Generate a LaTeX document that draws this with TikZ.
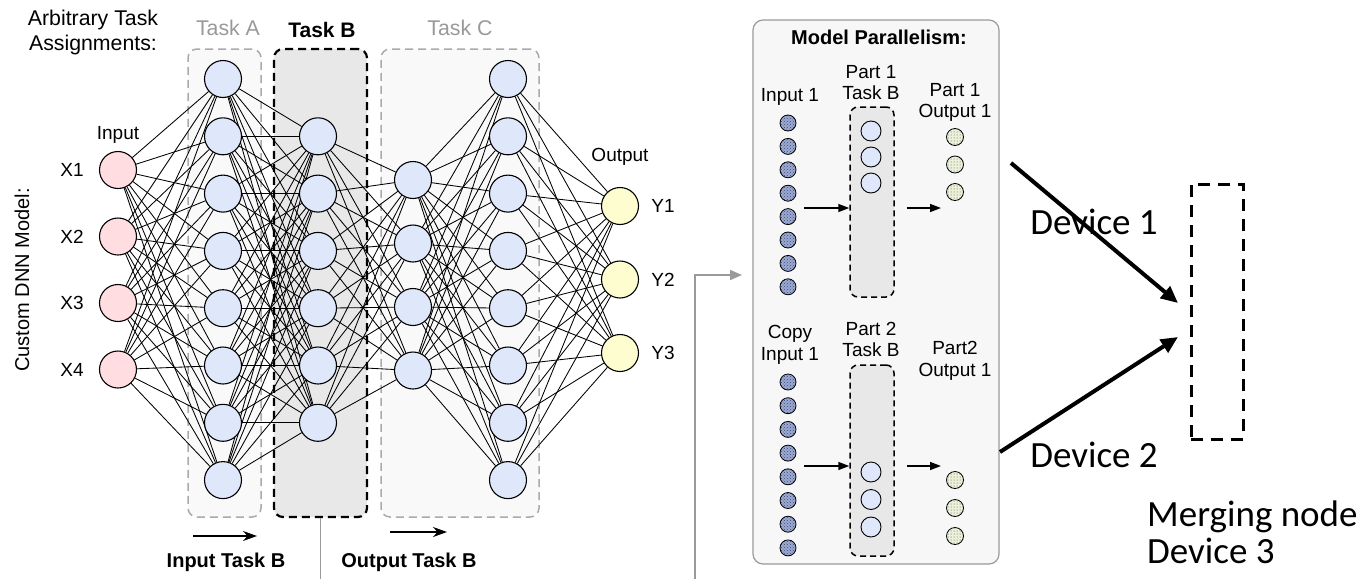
\documentclass[tikz,border=0pt]{standalone}
\usepackage{fontspec}
\setmainfont{Liberation Sans}
\newfontfamily\calibrifont{Carlito}
\usetikzlibrary{arrows.meta,patterns}

\pgfdeclarelayer{boxes}
\pgfdeclarelayer{edges}
\pgfsetlayers{boxes,edges,main}

\definecolor{inpink}{HTML}{FFDDE1}
\definecolor{hidblue}{HTML}{DFE7FB}
\definecolor{outyel}{HTML}{FDFDCF}
\definecolor{lightbox}{HTML}{F9F9F9}
\definecolor{darkbox}{HTML}{E8E8E8}
\definecolor{panelbox}{HTML}{F7F7F7}
\definecolor{dashgray}{HTML}{AAAAAA}
\definecolor{textgray}{HTML}{999999}
\definecolor{linkgray}{HTML}{9A9A9A}
\definecolor{dotblue}{HTML}{9DAAD2}
\definecolor{dotbluedark}{HTML}{3A4878}
\definecolor{dotgreen}{HTML}{EBF1DA}
\definecolor{dotgreendark}{HTML}{4E5A44}

\newcommand\labfont{\fontsize{19}{21.5}\selectfont}
\newcommand\headfont{\fontsize{21.3}{25.5}\selectfont}
\newcommand\boldlab{\fontsize{20}{22}\selectfont\bfseries}
\newcommand\devfont{\calibrifont\fontsize{37}{36.5}\selectfont}

\begin{document}
\begin{tikzpicture}[x=1pt,y=-1pt,
  neuron/.style={circle,draw=black,line width=1.1pt,minimum size=37pt,inner sep=0pt},
  edge/.style={draw=black,line width=0.85pt},
  lbl/.style={font=\labfont,inner sep=0pt},
  hlbl/.style={font=\headfont,inner sep=0pt},
  blbl/.style={font=\boldlab,inner sep=0pt},
  graytask/.style={rectangle,rounded corners=9pt,draw=dashgray,line width=1.5pt,
    dash pattern=on 8pt off 5pt,fill=lightbox,minimum height=468pt},
  blacktask/.style={rectangle,rounded corners=9pt,draw=black,line width=2.2pt,
    dash pattern=on 8pt off 5pt,fill=darkbox,minimum height=468pt},
  partbox/.style={rectangle,rounded corners=8pt,draw=black,line width=1.5pt,
    dash pattern=on 6pt off 4pt,fill=darkbox,minimum width=44pt,inner sep=0pt},
  smallneuron/.style={circle,draw=black,line width=0.9pt,minimum size=20pt,inner sep=0pt,fill=hidblue},
  indot/.style={circle,draw=black,line width=0.8pt,minimum size=16pt,inner sep=0pt,
    preaction={fill=dotblue},pattern=crosshatch dots,pattern color=dotbluedark},
  outdot/.style={circle,draw=black,line width=0.8pt,minimum size=17pt,inner sep=0pt,
    preaction={fill=dotgreen},pattern=dots,pattern color=dotgreendark},
  flowarrow/.style={draw=black,line width=1.8pt,-{Stealth[length=14pt,width=10pt]}},
  partarrow/.style={draw=black,line width=1.5pt,-{Triangle[length=11pt,width=8pt]}},
  linkline/.style={draw=linkgray,line width=1.8pt},
  devarrow/.style={draw=black,line width=4pt,-{Triangle[length=17pt,width=15pt]}},
  devlbl/.style={font=\devfont,inner sep=0pt}]

\useasboundingbox (0,0) rectangle (1369,579);

% ---------- task groupings ----------
\begin{pgfonlayer}{boxes}
  \node[graytask,minimum width=73pt]  (taskA) at (224.5,283) {};
  \node[blacktask,minimum width=93pt] (taskB) at (320.5,283) {};
  \node[graytask,minimum width=158pt] (taskC) at (460,283) {};
\end{pgfonlayer}

\node[hlbl,text=textgray] (tA) at (228,28) {Task A};
\node[blbl,font=\fontsize{21}{24}\selectfont\bfseries] (tB) at (322,30) {Task B};
\node[hlbl,text=textgray] (tC) at (460,28) {Task C};
\node[hlbl,align=center] (assign) at (93,32.5) {Arbitrary Task\\Assignments:};
\node[lbl,rotate=90,font=\fontsize{20}{22}\selectfont] (dnn) at (22,280) {Custom DNN Model:};

% ---------- network layers ----------
\foreach \i/\y in {1/170,2/236.5,3/303,4/369.5}{
  \node[neuron,fill=inpink] (x\i) at (118,\y) {};
  \node[lbl] (lx\i) at (72,\y) {X\i};
}
\foreach \i in {1,...,8}
  \node[neuron,fill=hidblue] (a\i) at (223,{79+57.3*(\i-1)}) {};
\foreach \i in {1,...,6}
  \node[neuron,fill=hidblue] (b\i) at (318,{136.3+57.3*(\i-1)}) {};
\foreach \i in {1,...,4}
  \node[neuron,fill=hidblue] (c\i) at (413,{180+63.5*(\i-1)}) {};
\foreach \i in {1,...,8}
  \node[neuron,fill=hidblue] (d\i) at (508,{79+57.3*(\i-1)}) {};
\foreach \i in {1,...,3}{
  \node[neuron,fill=outyel] (y\i) at (620,{206+73.5*(\i-1)}) {};
  \node[lbl] (ly\i) at (663,{206+73.5*(\i-1)}) {Y\i};
}
\node[lbl] (inlbl) at (118,135) {Input};
\node[lbl] (outlbl) at (620,157) {Output};

% ---------- dense connections ----------
\begin{pgfonlayer}{edges}
  \foreach \i in {1,...,4} \foreach \j in {1,...,8} \draw[edge] (x\i) -- (a\j);
  \foreach \i in {1,...,8} \foreach \j in {1,...,6} \draw[edge] (a\i) -- (b\j);
  \foreach \i in {1,...,6} \foreach \j in {1,...,4} \draw[edge] (b\i) -- (c\j);
  \foreach \i in {1,...,4} \foreach \j in {1,...,8} \draw[edge] (c\i) -- (d\j);
  \foreach \i in {1,...,8} \foreach \j in {1,...,3} \draw[edge] (d\i) -- (y\j);
\end{pgfonlayer}

% ---------- data flow hints ----------
\coordinate (inA) at (193,536);
\coordinate (inB) at (257,536);
\draw[flowarrow] (inA) -- (inB);
\node[blbl] (inTB) at (226,562) {Input Task B};
\coordinate (outA) at (390,532);
\coordinate (outB) at (447,532);
\draw[flowarrow] (outA) -- (outB);
\node[blbl] (outTB) at (409,562) {Output Task B};

% ---------- links to the split view ----------
\coordinate (tbEnd) at (320.5,579);
\draw[linkline] (taskB.south) -- (tbEnd);
\coordinate (lkStart) at (695,579);
\coordinate (lkEnd) at (742,275);
\draw[linkline,-{Triangle[length=12pt,width=10pt]}] (lkStart) |- (lkEnd);

% ---------- model parallelism panel ----------
\node[rectangle,rounded corners=10pt,draw=linkgray,line width=1.2pt,fill=panelbox,
      minimum width=246pt,minimum height=544pt] (mp) at (876,292) {};
\node[blbl] (mpT) at (879,37) {Model Parallelism:};

% part 1
\node[lbl] (in1T) at (790,97) {Input 1};
\node[lbl,align=center] (p1T) at (871,82.5) {Part 1\\Task B};
\node[lbl,align=center] (o1T) at (955,102.5) {Part 1\\Output 1};
\foreach \i in {1,...,8}
  \node[indot] (ia\i) at (788,{123+23.4*(\i-1)}) {};
\node[partbox,minimum height=190pt] (p1) at (872,202) {};
\foreach \i in {1,...,3}
  \node[smallneuron] (pa\i) at (871,{131+26*(\i-1)}) {};
\foreach \i in {1,...,3}
  \node[outdot] (oa\i) at (955,{137+27.5*(\i-1)}) {};
\coordinate (a1s) at (804,208);
\draw[partarrow] (a1s) -- (p1.west |- a1s);
\coordinate (a2e) at (941,208);
\draw[partarrow] (p1.east |- a2e) ++(12,0) -- (a2e);

% part 2
\node[lbl,align=center] (in2T) at (790,345) {Copy\\Input 1};
\node[lbl,align=center] (p2T) at (871,339.5) {Part 2\\Task B};
\node[lbl,align=center] (o2T) at (955,361) {Part2\\Output 1};
\foreach \i in {1,...,8}
  \node[indot] (ib\i) at (788,{382+23.7*(\i-1)}) {};
\node[partbox,minimum height=191pt] (p2) at (872,460.5) {};
\foreach \i in {1,...,3}
  \node[smallneuron] (pb\i) at (871,{472+27.5*(\i-1)}) {};
\foreach \i in {1,...,3}
  \node[outdot] (ob\i) at (955,{480+28*(\i-1)}) {};
\coordinate (b1s) at (804,466);
\draw[partarrow] (b1s) -- (p2.west |- b1s);
\coordinate (b2e) at (941,466);
\draw[partarrow] (p2.east |- b2e) ++(12,0) -- (b2e);

% ---------- merging device ----------
\node[rectangle,draw=black,line width=3pt,dash pattern=on 12pt off 8pt,
      minimum width=52pt,minimum height=255pt] (merge) at (1217,311.5) {};
\coordinate (d1s) at (1011,163);
\coordinate (d1e) at (1178,303);
\draw[devarrow] (d1s) -- (d1e);
\coordinate (d2s) at (1000,452);
\coordinate (d2e) at (1178,337);
\draw[devarrow] (d2s) -- (d2e);
\node[devlbl] (dev1) at (1094,222) {Device 1};
\node[devlbl] (dev2) at (1094,455) {Device 2};
\node[devlbl,align=left,anchor=north west] (dev3) at (1147,501) {Merging node\\Device 3};

\end{tikzpicture}
\end{document}
